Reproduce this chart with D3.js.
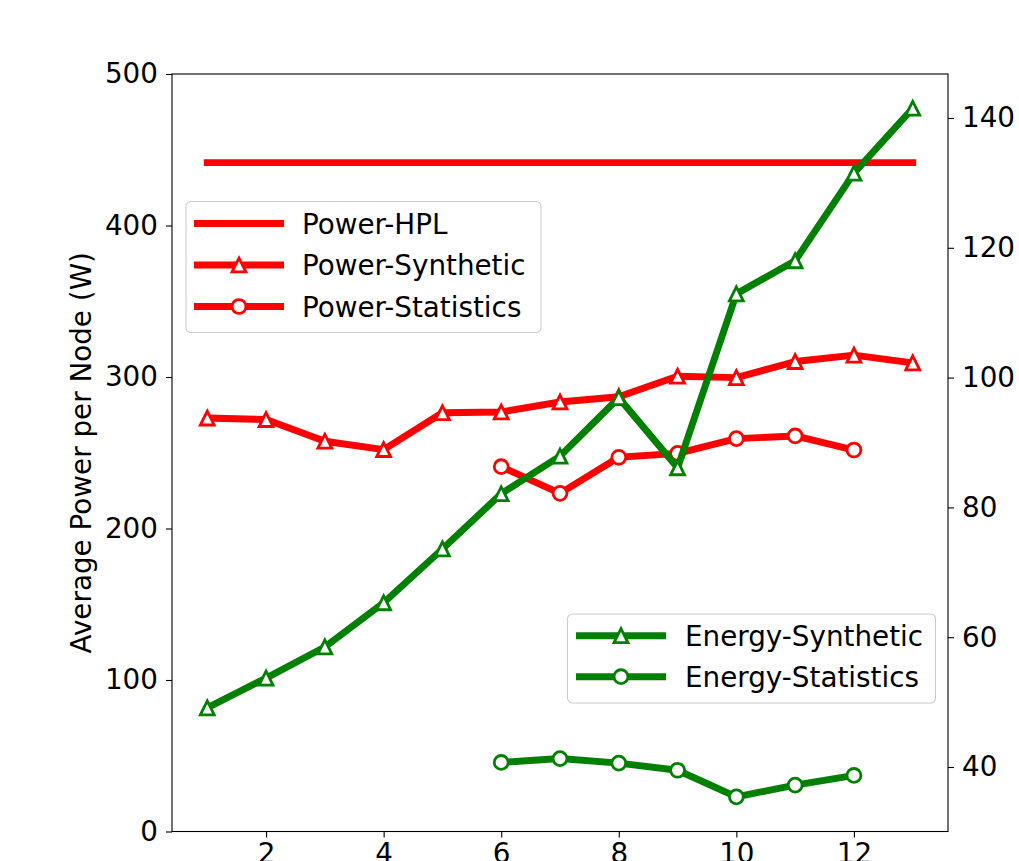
<!DOCTYPE html>
<html>
<head>
<meta charset="utf-8">
<script src="https://cdn.jsdelivr.net/npm/d3@7"></script>
<style>
  html, body { margin: 0; padding: 0; background: #fff; }
  svg { display: block; font-family: "DejaVu Sans", sans-serif; }
</style>
</head>
<body>
<svg id="chart" width="1019" height="861"></svg>
<script>
// ---- data ----
const xValues = [1, 2, 3, 4, 5, 6, 7, 8, 9, 10, 11, 12, 13];
const hplX = [1, 13];
const powerHPL = [441.5, 441.5];
const powerSynthetic = [272.9, 271.9, 257.6, 252.1, 276.4, 276.9, 283.5, 287.0, 300.5, 299.6, 310.2, 314.4, 309.3];
const statX = [6, 7, 8, 9, 10, 11, 12];
const powerStatistics = [240.8, 223.2, 247.0, 249.6, 259.3, 261.1, 251.8];
const energySynthetic = [49.1, 53.7, 58.5, 65.3, 73.6, 82.1, 87.9, 96.9, 86.1, 112.9, 118.0, 131.5, 141.5];
const energyStatistics = [40.7, 41.3, 40.6, 39.5, 35.4, 37.2, 38.7];
const xTicks = [2, 4, 6, 8, 10, 12];
const leftTicks = [0, 100, 200, 300, 400, 500];
const rightTicks = [40, 60, 80, 100, 120, 140];
const yLabel = "Average Power per Node (W)";
const legend1 = [
  { name: "Power-HPL", marker: null },
  { name: "Power-Synthetic", marker: "tri" },
  { name: "Power-Statistics", marker: "circ" }
];
const legend2 = [
  { name: "Energy-Synthetic", marker: "tri" },
  { name: "Energy-Statistics", marker: "circ" }
];

// ---- layout ----
const L = 172, R = 948, T = 74, B = 831.5;
const FS = 27.8;
const LW = 6.9, MS = 13.9, MEW = 2.8;
const RED = "#ff0000", GREEN = "#008000";

const svg = d3.select("#chart");
const x = d3.scaleLinear().domain([0.4, 13.6]).range([L, R]);
const yL = d3.scaleLinear().domain([0, 500]).range([B, T]);
const yR = d3.scaleLinear().domain([30.06, 146.78]).range([B, T]);

function triPath(s) {
  const h = s / 2;
  return `M0,${-h}L${-h},${h}L${h},${h}Z`;
}

function drawSeries(g, xs, ys, yScale, color, marker) {
  const pts = xs.map((d, i) => [x(d), yScale(ys[i])]);
  g.append("path")
    .attr("d", d3.line()(pts))
    .attr("fill", "none")
    .attr("stroke", color)
    .attr("stroke-width", LW)
    .attr("stroke-linejoin", "round")
    .attr("stroke-linecap", "square");
  if (marker === "tri") {
    g.selectAll(null).data(pts).enter().append("path")
      .attr("d", triPath(MS))
      .attr("transform", d => `translate(${d[0]},${d[1]})`)
      .attr("fill", "#fff").attr("stroke", color).attr("stroke-width", MEW)
      .attr("stroke-linejoin", "miter");
  } else if (marker === "circ") {
    g.selectAll(null).data(pts).enter().append("circle")
      .attr("cx", d => d[0]).attr("cy", d => d[1]).attr("r", MS / 2)
      .attr("fill", "#fff").attr("stroke", color).attr("stroke-width", MEW);
  }
}

// power axes group
const gP = svg.append("g");
drawSeries(gP, hplX, powerHPL, yL, RED, null);
drawSeries(gP, xValues, powerSynthetic, yL, RED, "tri");
drawSeries(gP, statX, powerStatistics, yL, RED, "circ");

// energy
const gE = svg.append("g");
drawSeries(gE, xValues, energySynthetic, yR, GREEN, "tri");
drawSeries(gE, statX, energyStatistics, yR, GREEN, "circ");

// frame
svg.append("rect").attr("x", L).attr("y", T).attr("width", R - L).attr("height", B - T)
  .attr("fill", "none").attr("stroke", "#000").attr("stroke-width", 1.1);

function styleAxis(g) {
  g.select(".domain").remove();
  g.selectAll(".tick line").attr("stroke", "#000").attr("stroke-width", 1.1);
  g.selectAll(".tick text").attr("font-size", FS).attr("fill", "#000")
    .attr("font-family", "DejaVu Sans, sans-serif");
}

const axL = svg.append("g").attr("transform", `translate(${L},0)`)
  .call(d3.axisLeft(yL).tickValues(leftTicks).tickSize(6).tickPadding(8).tickFormat(d3.format("d")));
styleAxis(axL);
const axR = svg.append("g").attr("transform", `translate(${R},0)`)
  .call(d3.axisRight(yR).tickValues(rightTicks).tickSize(6).tickPadding(8).tickFormat(d3.format("d")));
styleAxis(axR);
const axB = svg.append("g").attr("transform", `translate(0,${B})`)
  .call(d3.axisBottom(x).tickValues(xTicks).tickSize(6).tickPadding(6).tickFormat(d3.format("d")));
styleAxis(axB);

// y label
svg.append("text")
  .attr("transform", `translate(90.5,${(T + B) / 2}) rotate(-90)`)
  .attr("text-anchor", "middle")
  .attr("font-size", FS)
  .attr("fill", "#000")
  .text(yLabel);

// legends
function drawLegend(items, color, bx, by, bw, bh, rowY0, rowStep, lineX0, lineX1, textX) {
  const g = svg.append("g");
  g.append("rect").attr("x", bx).attr("y", by).attr("width", bw).attr("height", bh)
    .attr("rx", 5).attr("ry", 5)
    .attr("fill", "#fff").attr("fill-opacity", 0.8)
    .attr("stroke", "#cccccc").attr("stroke-width", 1.1);
  items.forEach((it, i) => {
    const yy = rowY0 + i * rowStep;
    g.append("line").attr("x1", lineX0).attr("x2", lineX1).attr("y1", yy).attr("y2", yy)
      .attr("stroke", color).attr("stroke-width", LW);
    const mx = (lineX0 + lineX1) / 2;
    if (it.marker === "tri") {
      g.append("path").attr("d", triPath(MS)).attr("transform", `translate(${mx},${yy})`)
        .attr("fill", "#fff").attr("stroke", color).attr("stroke-width", MEW);
    } else if (it.marker === "circ") {
      g.append("circle").attr("cx", mx).attr("cy", yy).attr("r", MS / 2)
        .attr("fill", "#fff").attr("stroke", color).attr("stroke-width", MEW);
    }
    g.append("text").attr("x", textX).attr("y", yy).attr("dy", "0.36em")
      .attr("font-size", FS).attr("fill", "#000").text(it.name);
  });
}

drawLegend(legend1, RED, 186, 201.5, 355, 131, 223.5, 41.5, 194, 284, 302);
drawLegend(legend2, GREEN, 567.5, 614, 368, 89, 635.7, 41, 576, 666, 685);
</script>
</body>
</html>
